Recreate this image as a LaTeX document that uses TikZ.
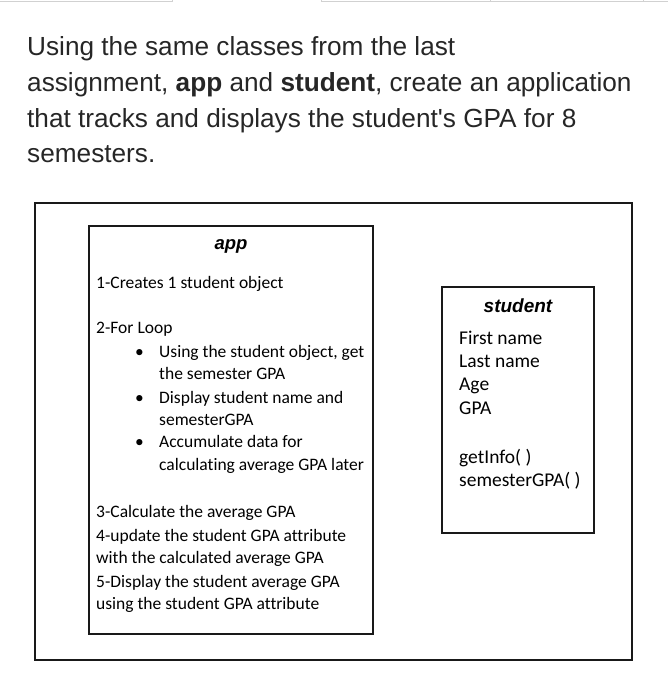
\documentclass[tikz,border=0pt]{standalone}
\usepackage{fontspec}
\setmainfont{Liberation Sans}
\newfontfamily\bodyfont[Ligatures=NoCommon]{Carlito}
\begin{document}
\begin{tikzpicture}[x=1pt,y=-1pt,
  titletext/.style={anchor=base west,inner sep=0pt,font=\fontsize{26.2}{30}\selectfont,text=black!85},
  boxtext/.style={anchor=base west,inner sep=0pt,font=\bodyfont\fontsize{17.5}{20}\selectfont},
  stext/.style={anchor=base west,inner sep=0pt,font=\bodyfont\fontsize{19.5}{22}\selectfont},
  classname/.style={anchor=base,inner sep=0pt,font=\fontsize{19}{22}\selectfont\bfseries\itshape},
  frame/.style={draw=black!90,line width=2.6pt,inner sep=0pt},
  classbox/.style={draw=black!90,line width=2pt,inner sep=0pt},
  uiedge/.style={draw=black!18,line width=1pt}]
\useasboundingbox (0,0) rectangle (668,700);
% faint UI fragments at the top
\draw[uiedge] (0,2) -- (172,2) -- (172,0);
\draw[uiedge] (321,0) -- (321,2) -- (668,2);
\draw[uiedge] (490,0) -- (490,2);
\draw[uiedge] (643,0) -- (643,2);
% title
\node[titletext] (t1) at (27,56) {Using the same classes from the last};
\node[titletext] (t2) at (27,92) {assignment, \textbf{app} and \textbf{student}, create an application};
\node[titletext] (t3) at (27,128) {that tracks and displays the student\textquotesingle s GPA for 8};
\node[titletext] (t4) at (27,163) {semesters.};
% boxes
\node[frame,minimum width=597pt,minimum height=457pt] (outer) at (333.5,431.5) {};
\node[classbox,minimum width=284pt,minimum height=408pt] (app) at (231,430) {};
\node[classbox,minimum width=152pt,minimum height=246pt] (student) at (518,410) {};
% app contents
\node[classname,font=\fontsize{18.5}{22}\selectfont\bfseries\itshape] (appname) at (231,250) {app};
\node[boxtext] (a1) at (96,288) {1-Creates 1 student object};
\node[boxtext] (a2) at (96,333) {2-For Loop};
\node[boxtext] (b1) at (135,357) {•};
\node[boxtext] (a3) at (159,357) {Using the student object, get};
\node[boxtext] (a4) at (159,379) {the semester GPA};
\node[boxtext] (b2) at (135,403) {•};
\node[boxtext] (a5) at (159,403) {Display student name and};
\node[boxtext] (a6) at (159,425) {semesterGPA};
\node[boxtext] (b3) at (135,447) {•};
\node[boxtext] (a7) at (159,447) {Accumulate data for};
\node[boxtext] (a8) at (159,470) {calculating average GPA later};
\node[boxtext] (a9) at (96,517) {3-Calculate the average GPA};
\node[boxtext] (a10) at (96,541) {4-update the student GPA attribute};
\node[boxtext] (a11) at (96,563) {with the calculated average GPA};
\node[boxtext] (a12) at (96,587) {5-Display the student average GPA};
\node[boxtext] (a13) at (96,609) {using the student GPA attribute};
% student contents
\node[classname] (stname) at (518,312) {student};
\node[stext] (s1) at (459,344) {First name};
\node[stext] (s2) at (459,367) {Last name};
\node[stext] (s3) at (459,390) {Age};
\node[stext] (s4) at (459,414) {GPA};
\node[stext] (s5) at (459,463) {getInfo( )};
\node[stext] (s6) at (459,486) {semesterGPA( )};
\end{tikzpicture}
\end{document}
